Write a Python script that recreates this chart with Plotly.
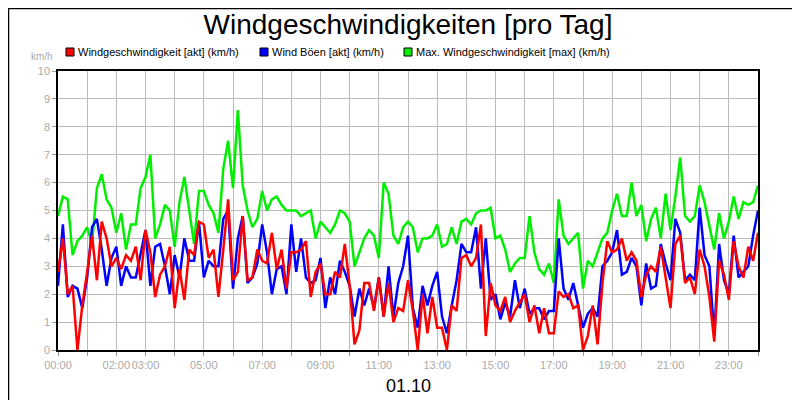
import plotly.graph_objects as go

# 10-minute samples, 00:00 .. 24:00
max_wind = [4.8,5.5,5.4,3.4,3.9,4.1, 4.4,3.8,5.8,6.3,5.4,5.1, 4.2,4.9,3.6,4.5,4.5,5.8,
            6.2,7.0,4.0,4.5,5.2,5.0, 3.7,5.3,6.2,5.0,3.8,5.7, 5.7,5.2,4.9,4.2,6.5,7.5,
            5.8,8.6,5.9,5.0,4.4,4.7, 5.7,5.0,5.4,5.5,5.2,5.0, 5.0,5.0,4.8,4.9,5.0,4.0,
            4.6,4.4,4.2,4.5,5.0,4.9, 4.6,3.0,3.5,4.0,4.3,4.1, 3.3,6.0,5.6,4.1,3.8,4.4,
            4.6,4.4,3.5,4.0,4.0,4.1, 4.5,3.7,3.8,4.4,3.8,4.6, 4.7,4.5,4.9,5.0,5.0,5.1,
            4.0,4.1,3.6,2.8,3.1,3.3, 3.3,4.8,3.5,2.9,2.7,3.1, 2.4,5.4,4.1,3.8,4.0,4.2,
            2.2,3.2,3.0,3.5,4.0,4.2, 5.0,5.6,4.8,4.8,6.0,4.8, 5.2,3.9,4.7,5.1,4.0,5.6,
            4.3,5.5,6.9,4.8,4.6,4.8, 5.9,5.3,4.5,3.6,4.9,4.0, 4.6,5.5,4.7,5.3,5.2,5.3,5.9]
akt_wind = [2.8,4.0,2.0,2.3,0.0,1.6, 2.8,4.1,2.5,4.6,4.0,3.0, 3.3,2.9,3.4,3.2,3.7,2.5,
            4.3,3.5,1.9,2.7,3.0,3.7, 1.5,2.9,1.8,3.6,3.4,4.6, 4.5,3.3,3.6,1.9,3.6,5.4,
            2.5,2.8,4.8,2.5,2.6,3.6, 3.2,3.1,4.2,2.9,3.6,2.2, 3.5,3.5,3.6,3.9,1.9,2.8,
            3.1,2.0,2.0,2.8,2.6,3.8, 2.3,0.2,0.7,2.4,2.4,1.4, 2.6,1.2,2.4,1.0,1.5,1.4,
            2.5,1.4,0.0,2.0,0.6,1.9, 0.8,0.8,0.0,1.6,1.4,3.3, 3.4,3.0,3.3,4.5,0.5,2.4,
            1.6,1.4,1.9,1.0,1.4,1.7, 2.0,1.0,1.6,0.6,1.5,0.6, 0.6,2.1,1.9,2.0,1.5,1.6,
            0.0,0.5,1.6,0.2,2.4,3.9, 3.5,3.6,4.0,3.2,3.5,3.2, 1.9,2.7,3.0,2.8,3.7,2.6,
            1.5,3.8,4.1,2.4,2.6,2.0, 3.6,3.0,1.9,0.3,3.2,2.7, 1.8,3.9,3.0,2.6,3.7,3.2,4.2]
boeen = [2.3,4.5,1.9,2.3,2.2,1.5, 2.6,4.4,4.7,3.6,2.3,3.3, 3.7,2.3,3.0,2.6,2.6,3.5,
         4.3,2.3,3.7,3.8,3.0,2.0, 3.4,2.6,4.0,3.2,3.2,4.6, 2.6,3.2,3.0,3.0,4.7,5.0,
         2.2,4.0,4.8,2.4,2.6,3.1, 4.5,3.5,2.0,2.9,3.0,2.0, 4.5,2.8,4.0,2.6,2.4,2.5,
         3.3,1.5,2.6,2.0,3.2,2.8, 2.3,1.2,2.2,1.6,2.2,1.5, 2.6,1.2,3.0,1.2,2.4,3.0,
         4.1,1.5,0.8,2.3,1.6,2.3, 2.8,1.2,0.6,1.6,2.5,3.8, 3.5,3.5,4.4,2.2,4.0,1.8,
         2.0,1.1,1.7,1.2,2.5,1.5, 2.2,1.3,1.5,1.5,1.1,1.4, 1.4,4.0,2.2,1.8,2.4,1.6,
         0.8,1.3,1.5,1.2,3.0,3.2, 3.5,4.3,2.7,2.8,3.3,3.0, 1.6,3.1,2.2,2.3,3.8,3.1,
         2.5,4.7,4.2,2.5,2.7,2.5, 5.1,3.4,3.0,0.5,3.8,2.5, 2.0,4.1,2.6,2.8,3.0,4.1,5.0]
hours = [i / 6 for i in range(len(max_wind))]

series = [("Windgeschwindigkeit [akt] (km/h)", akt_wind, "#ff0000"),
          ("Wind Böen [akt] (km/h)", boeen, "#0000ff"),
          ("Max. Windgeschwindigkeit [max] (km/h)", max_wind, "#00ee00")]

tick_hours = list(range(25))
labeled = {0: "00:00", 2: "02:00", 3: "03:00", 5: "05:00", 7: "07:00", 9: "09:00",
           11: "11:00", 13: "13:00", 15: "15:00", 17: "17:00", 19: "19:00",
           21: "21:00", 23: "23:00"}
tick_text = [labeled.get(h, "") for h in tick_hours]

fig = go.Figure()
for name, vals, col in [series[2], series[1], series[0]]:
    fig.add_trace(go.Scatter(x=hours, y=vals, mode="lines", name=name,
                             line=dict(color=col, width=2.5), showlegend=False))

W, L, T, H = 700, 50, 63, 279
def px(x): return (x - L) / W
def py(y): return (T + H - y) / H

shapes = [dict(type="rect", xref="paper", yref="paper", x0=px(0.5), x1=px(799.5),
               y0=py(399.5), y1=py(0.5), line=dict(color="black", width=1.5))]
annotations = []
for (name, _, col), sx in zip(series, [58, 252, 396]):
    shapes.append(dict(type="rect", xref="paper", yref="paper", x0=px(sx), x1=px(sx + 8),
                       y0=py(48), y1=py(40), fillcolor=col, line=dict(color="black", width=1)))
    annotations.append(dict(text=name, xref="paper", yref="paper", x=px(sx + 10), y=py(44),
                            xanchor="left", yanchor="middle", showarrow=False,
                            font=dict(size=11, color="black")))
annotations += [
    dict(text="km/h", xref="paper", yref="paper", x=px(47), y=py(48),
         showarrow=False, font=dict(size=10, color="#aaaaaa"), xanchor="right", yanchor="middle"),
    dict(text="01.10", xref="paper", yref="paper", x=0.5, y=py(378),
         showarrow=False, font=dict(size=18, color="black"), yanchor="middle"),
]

fig.update_layout(
    width=800, height=400, paper_bgcolor="white", plot_bgcolor="white",
    margin=dict(l=50, r=50, t=63, b=58), showlegend=False,
    font=dict(family="Liberation Sans, Arial, sans-serif"),
    title=dict(text="Windgeschwindigkeiten [pro Tag]", x=0.5, xanchor="center",
               y=0.985, yanchor="top", font=dict(size=28, color="black")),
    xaxis=dict(range=[0, 24], tickvals=tick_hours, ticktext=tick_text, tickangle=0,
               automargin=False,
               showgrid=True, gridcolor="#bbbbbb", gridwidth=1,
               showline=True, linecolor="black", linewidth=1.5, mirror=True,
               ticks="outside", ticklen=4, tickcolor="#999999",
               tickfont=dict(size=11, color="#aaaaaa"), zeroline=False),
    yaxis=dict(range=[0, 10], dtick=1, showgrid=True, gridcolor="#bbbbbb", automargin=False,
               showline=True, linecolor="black", linewidth=1.5, mirror=True,
               ticks="outside", ticklen=4, tickcolor="#999999",
               tickfont=dict(size=11, color="#aaaaaa"), zeroline=False),
    shapes=shapes, annotations=annotations,
)
fig.write_html("out.html")
